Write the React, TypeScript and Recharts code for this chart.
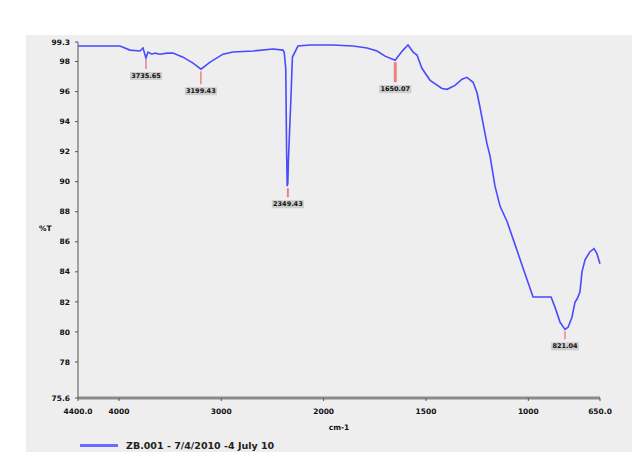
import { LineChart, Line, XAxis, YAxis, ReferenceDot } from "recharts";

// wavenumber (cm-1) and transmittance (%T)
const WAVENUMBER = [
  4400, 4185, 3990, 3892, 3794, 3765, 3736, 3716, 3677, 3648, 3599, 3530, 3472, 3374, 3276, 3198,
  3110, 2983, 2886, 2690, 2495, 2397, 2385, 2370, 2362, 2356, 2350, 2344, 2335, 2320, 2305, 2251,
  2133, 1954, 1857, 1788, 1739, 1700, 1651, 1612, 1588, 1563, 1544, 1520, 1480, 1422, 1397, 1358,
  1324, 1300, 1270, 1251, 1236, 1221, 1202, 1187, 1163, 1138, 1104, 1065, 1016, 977, 889, 870, 845,
  821, 806, 787, 772, 762, 748, 738, 723, 699, 679, 665, 650,
];
const TRANSMITTANCE = [
  99.03, 99.03, 99.03, 98.76, 98.7, 98.9, 98.23, 98.63, 98.49, 98.56, 98.49, 98.56, 98.56, 98.29,
  97.89, 97.49, 97.96, 98.49, 98.63, 98.7, 98.83, 98.76, 98.6, 97.5, 92.0, 89.7, 89.9, 91.5, 93.0,
  95.5, 98.3, 99.03, 99.1, 99.1, 99.03, 98.9, 98.7, 98.36, 98.09, 98.76, 99.1, 98.63, 98.43, 97.55,
  96.75, 96.21, 96.15, 96.41, 96.82, 96.95, 96.62, 95.94, 94.94, 93.86, 92.52, 91.7, 89.7, 88.36,
  87.35, 85.81, 83.86, 82.32, 82.32, 81.65, 80.64, 80.17, 80.31, 80.98, 81.98, 82.19, 82.66, 84.0,
  84.8, 85.34, 85.54, 85.21, 84.54,
];

const X_TICKS = [4400, 4000, 3000, 2000, 1500, 1000, 650];
const X_TICK_LABELS = ["4400.0", "4000", "3000", "2000", "1500", "1000", "650.0"];
const Y_TICKS = [75.6, 78, 80, 82, 84, 86, 88, 90, 92, 94, 96, 98, 99.3];

const PEAK_WN = [3735.65, 3199.43, 2349.43, 1650.07, 821.04];
const PEAK_T = [98.23, 97.49, 89.7, 98.09, 80.17];

const SERIES_NAME = "ZB.001 - 7/4/2010 -4 July 10";

// marker length / width per peak (style only)
const MARK_LEN = [9, 13, 9, 20, 8];
const MARK_W = [1.5, 1.5, 2, 3, 1.5];

// the instrument expands the axis 2x below 2000 cm-1
const toPos = (wn: number) => (wn >= 2000 ? 2000 - wn : (2000 - wn) * 2);

const data = WAVENUMBER.map((wn, i) => ({ pos: toPos(wn), t: TRANSMITTANCE[i] }));
const xTicks = X_TICKS.map(toPos);

const tickStyle = { fill: "#111", fontSize: 7.5, fontWeight: 700, fontFamily: "DejaVu Sans" };

function PeakMark({ cx, cy, i }: { cx?: number; cy?: number; i: number }) {
  if (cx == null || cy == null) return null;
  const y0 = cy + 2;
  const y1 = y0 + MARK_LEN[i];
  const text = PEAK_WN[i].toFixed(2);
  const w = text.length * 4.3 + 2;
  return (
    <g>
      <line x1={cx} x2={cx} y1={y0} y2={y1} stroke="#f08080" strokeWidth={MARK_W[i]} />
      <rect x={cx - w / 2} y={y1 + 3} width={w} height={8} fill="#cdcdcd" />
      <text
        x={cx}
        y={y1 + 7}
        textAnchor="middle"
        dominantBaseline="central"
        fontSize={6.5}
        fontWeight={700}
        fontFamily="DejaVu Sans"
        fill="#111"
      >
        {text}
      </text>
    </g>
  );
}

export default function App() {
  return (
    <div style={{ position: "absolute", left: 0, top: 0, width: 642, height: 469, background: "#fff" }}>
      <div
        style={{ position: "absolute", left: 26, top: 35, width: 606, height: 417, background: "#eeeeee" }}
      />
      <div style={{ position: "absolute", left: 0, top: 0 }}>
        <LineChart width={642} height={469} data={data} margin={{ top: 42, right: 42, left: 28, bottom: 37 }}>
          <XAxis
            dataKey="pos"
            type="number"
            domain={[toPos(4400), toPos(650)]}
            ticks={xTicks}
            tickFormatter={(v: number) => X_TICK_LABELS[xTicks.indexOf(v)] ?? ""}
            tick={tickStyle}
            tickSize={3}
            tickMargin={8}
            height={34}
            axisLine={{ stroke: "#8a8a8a", strokeWidth: 3 }}
            tickLine={{ stroke: "#555" }}
            label={{ value: "cm-1", position: "insideBottom", offset: 2, style: tickStyle }}
          />
          <YAxis
            type="number"
            domain={[75.6, 99.3]}
            ticks={Y_TICKS}
            tickFormatter={(v: number) => (Number.isInteger(v) ? String(v) : v.toFixed(1))}
            tick={tickStyle}
            tickSize={3}
            tickMargin={5}
            width={50}
            interval={0}
            axisLine={{ stroke: "#555" }}
            tickLine={{ stroke: "#555" }}
            label={{ value: "%T", position: "insideLeft", offset: 11, dy: 8, style: tickStyle }}
          />
          <Line
            dataKey="t"
            stroke="#4a4aff"
            strokeWidth={1.6}
            dot={false}
            isAnimationActive={false}
          />
          {PEAK_WN.map((wn, i) => (
            <ReferenceDot
              key={wn}
              x={toPos(wn)}
              y={PEAK_T[i]}
              shape={(p: any) => <PeakMark cx={p.cx} cy={p.cy} i={i} />}
            />
          ))}
        </LineChart>
      </div>
      <div
        style={{
          position: "absolute",
          left: 80,
          top: 440,
          display: "flex",
          alignItems: "center",
          fontFamily: "DejaVu Sans",
          fontWeight: 700,
          fontSize: 9.5,
          color: "#222",
        }}
      >
        <span style={{ display: "inline-block", width: 38, height: 3, background: "#6a6aff", marginRight: 8 }} />
        {SERIES_NAME}
      </div>
    </div>
  );
}
